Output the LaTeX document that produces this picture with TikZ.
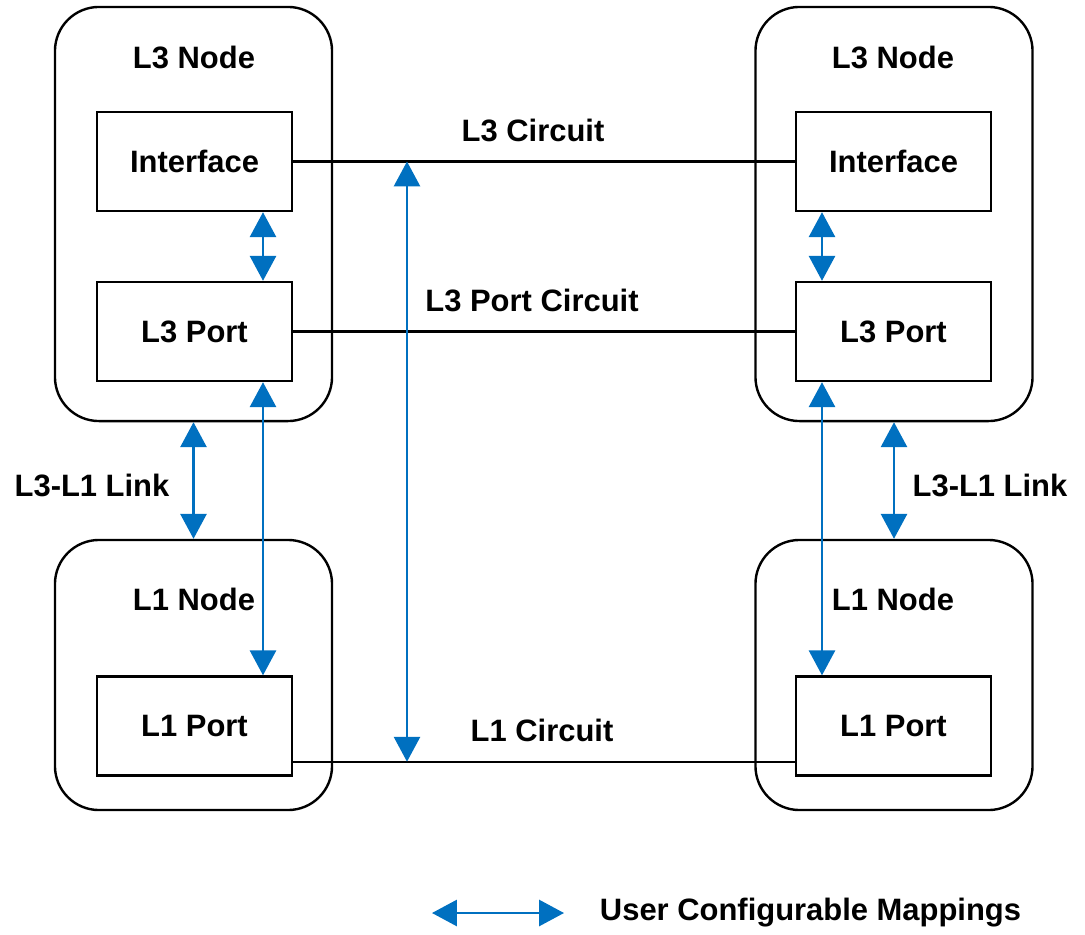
\documentclass[tikz,border=0pt]{standalone}
\usepackage{fontspec}
\setmainfont{Liberation Sans}
\usetikzlibrary{arrows.meta, positioning, calc}
\definecolor{MapBlue}{RGB}{0, 112, 192}

\begin{document}
\begin{tikzpicture}[x=0.025cm, y=-0.025cm,
    every node/.style={font=\fontsize{22}{26}\selectfont\bfseries},
    nodebox/.style={draw, line width=1.7pt, rounded corners=1.1cm, minimum width=6.925cm},
    portbox/.style={draw, line width=1.7pt, minimum width=4.875cm, minimum height=2.475cm},
    circuit/.style={draw, line width=1.7pt},
    mapping/.style={draw=MapBlue, line width=1.7pt, {Triangle[length=0.62cm, width=0.65cm]}-{Triangle[length=0.62cm, width=0.65cm]}}]
            \useasboundingbox (0,0) rectangle (1085,934);

            % left side
            \node[nodebox, minimum height=10.35cm] (l3L) at (193.5,214) {};
            \node at (194,57) {L3 Node};
            \node[portbox] (ifL) at (194.5,161.5) {Interface};
            \node[portbox] (p3L) at (194.5,331.5) {L3 Port};
            \node[nodebox, minimum height=6.75cm] (l1L) at (193.5,675) {};
            \node at (194,599) {L1 Node};
            \node[portbox] (p1L) at (194.5,726) {L1 Port};
            \node (linkL) at (92,485) {L3-L1 Link};

            % right side
            \node[nodebox, minimum height=10.35cm] (l3R) at (894,214) {};
            \node at (893,57) {L3 Node};
            \node[portbox] (ifR) at (893.5,161.5) {Interface};
            \node[portbox] (p3R) at (893.5,331.5) {L3 Port};
            \node[nodebox, minimum height=6.75cm] (l1R) at (894,675) {};
            \node at (893,599) {L1 Node};
            \node[portbox] (p1R) at (893.5,726) {L1 Port};
            \node (linkR) at (990,485) {L3-L1 Link};

            % circuits
            \coordinate (c1L) at ($(p1L.south east)+(0,-15)$);
            \coordinate (c1R) at ($(p1R.south west)+(0,-15)$);
            \draw[circuit] (ifL.east) -- (ifR.west);
            \draw[circuit] (p3L.east) -- (p3R.west);
            \draw[circuit] (c1L) -- (c1R);
            \node at (533,130) {L3 Circuit};
            \node at (532,300) {L3 Port Circuit};
            \node at (542,730) {L1 Circuit};

            % mappings
            \coordinate (mapL) at (263,0);
            \coordinate (mapR) at (822,0);
            \coordinate (mapM) at (407,0);
            \draw[mapping] (ifL.south -| mapL) -- (p3L.north -| mapL);
            \draw[mapping] (ifR.south -| mapR) -- (p3R.north -| mapR);
            \draw[mapping] (p3L.south -| mapL) -- (p1L.north -| mapL);
            \draw[mapping] (p3R.south -| mapR) -- (p1R.north -| mapR);
            \draw[mapping] (l3L.south) -- (l1L.north);
            \draw[mapping] (l3R.south) -- (l1R.north);
            \draw[mapping] (ifL.east -| mapM) -- (c1L -| mapM);

            % legend
            \coordinate (legA) at (432,913);
            \coordinate (legB) at (564,913);
            \draw[mapping] (legA) -- (legB);
            \node[anchor=west] (legText) at (595,913) {User Configurable Mappings};
        \end{tikzpicture}
\end{document}
